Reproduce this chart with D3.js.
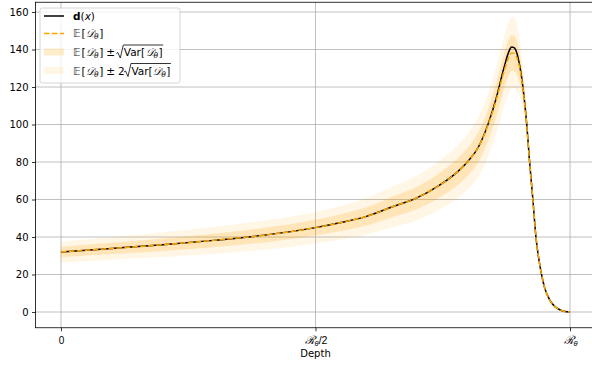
<!DOCTYPE html>
<html>
<head>
  <meta charset="utf-8">
  <style>
    body { margin: 0; padding: 0; background: white; }
    svg { font-family: "DejaVu Sans", sans-serif; }
    .grid line { stroke: #b0b0b0; stroke-width: 0.8; }
    .tick text { font-size: 10px; fill: black; }
    .legend text { font-size: 10.5px; }
  </style>
</head>
<body>
  <div id="chart"></div>
  <script src="https://d3js.org/d3.v7.min.js"></script>
  <script>
    // depth as a fraction of R_theta
    var depth = [0, 0.1, 0.2, 0.3, 0.4, 0.5, 0.55, 0.6, 0.65, 0.7, 0.74, 0.78, 0.8, 0.82, 0.84, 0.855,
      0.87, 0.88, 0.885, 0.89, 0.895, 0.9, 0.905, 0.91, 0.915, 0.92, 0.927, 0.933, 0.94, 0.944,
      0.95, 0.96, 0.97, 0.98, 0.99, 1.0]
    // true dose d(x)
    var dose = [32, 33.9, 35.9, 38.2, 41, 45, 47.7, 51, 56, 61, 67, 75, 80.5, 88, 101, 114,
      130, 139, 141.3, 141, 138.5, 133, 125, 114, 100, 82, 60, 40, 26, 20,
      13, 6.5, 3, 1.2, 0.3, 0]
    // expected value E[D_theta]
    var meanDose = [32, 33.9, 35.9, 38.2, 41, 45, 47.7, 51, 56, 61, 67, 75, 80.5, 88, 100.5, 113,
      128, 136, 138.2, 138, 136, 131.5, 124, 113.5, 99.5, 81.5, 60, 40, 26, 20,
      13, 6.5, 3, 1.2, 0.3, 0]
    // sqrt(Var[D_theta])
    var sdDose = [2.8, 3.0, 3.3, 3.6, 3.9, 4.2, 4.5, 4.9, 5.4, 6.0, 6.5, 7.1, 7.5, 8.0, 8.5, 9.0,
      9.3, 9.5, 9.5, 9.4, 9.0, 8.0, 6.5, 5.0, 3.8, 2.8, 2.0, 1.6, 1.3, 1.1,
      0.9, 0.7, 0.5, 0.3, 0.15, 0.05]
    var yTicks = [0, 20, 40, 60, 80, 100, 120, 140, 160]
    var xTicks = [0, 0.5, 1]

    var width = 592, height = 366

    var svg = d3.select("#chart").append("svg")
      .attr("width", width)
      .attr("height", height)

    var x = d3.scaleLinear().domain([-0.05, 1.05]).range([35.5, 595.5])
    var y = d3.scaleLinear().domain([-8.4, 165.2]).range([327.75, 2.25])

    var pts = depth.map(function(t, i) {
      return { t: t, d: dose[i], m: meanDose[i], s: sdDose[i] }
    })

    svg.append("clipPath").attr("id", "clip")
      .append("rect").attr("x", x(-0.05)).attr("y", y(165.2))
      .attr("width", x(1.05) - x(-0.05)).attr("height", y(-8.4) - y(165.2))

    // grid
    var grid = svg.append("g").attr("class", "grid")
    grid.selectAll(".gy").data(yTicks).enter().append("line")
      .attr("x1", x(-0.05)).attr("x2", x(1.05))
      .attr("y1", function(d) { return y(d) }).attr("y2", function(d) { return y(d) })
    grid.selectAll(".gx").data(xTicks).enter().append("line")
      .attr("y1", y(-8.4)).attr("y2", y(165.2))
      .attr("x1", function(d) { return x(d) }).attr("x2", function(d) { return x(d) })

    var plot = svg.append("g").attr("clip-path", "url(#clip)")

    var band = function(k) {
      return d3.area()
        .curve(d3.curveMonotoneX)
        .x(function(d) { return x(d.t) })
        .y0(function(d) { return y(d.m - k * d.s) })
        .y1(function(d) { return y(d.m + k * d.s) })
    }

    plot.append("path").datum(pts)
      .attr("d", band(2))
      .attr("fill", "orange").attr("fill-opacity", 0.1)
    plot.append("path").datum(pts)
      .attr("d", band(1))
      .attr("fill", "orange").attr("fill-opacity", 0.2)

    plot.append("path").datum(pts)
      .attr("d", d3.line().curve(d3.curveMonotoneX)
        .x(function(d) { return x(d.t) }).y(function(d) { return y(d.d) }))
      .attr("fill", "none").attr("stroke", "black").attr("stroke-width", 1.5)

    plot.append("path").datum(pts)
      .attr("d", d3.line().curve(d3.curveMonotoneX)
        .x(function(d) { return x(d.t) }).y(function(d) { return y(d.m) }))
      .attr("fill", "none").attr("stroke", "orange").attr("stroke-width", 1.5)
      .attr("stroke-dasharray", "5.55,2.4")

    // axes
    var yAxis = svg.append("g")
      .attr("transform", "translate(" + x(-0.05) + ",0)")
      .call(d3.axisLeft(y).tickValues(yTicks).tickSize(3.5).tickPadding(3.5))
    var xAxis = svg.append("g")
      .attr("transform", "translate(0," + y(-8.4) + ")")
      .call(d3.axisBottom(x).tickValues(xTicks).tickSize(3.5).tickPadding(3.5).tickFormat(""))
    ;[yAxis, xAxis].forEach(function(a) {
      a.select(".domain").remove()
      a.selectAll(".tick line").attr("stroke", "black").attr("stroke-width", 0.8)
      a.selectAll(".tick text").attr("font-family", "DejaVu Sans").attr("font-size", 10)
    })

    // x tick labels with script R
    var xLab = xAxis.selectAll(".tick").append("text")
      .attr("y", 16).attr("text-anchor", "middle")
      .attr("font-size", 10).attr("fill", "black")
    xLab.each(function(d) {
      var t = d3.select(this)
      if (d === 0) { t.text("0"); return }
      t.append("tspan").attr("font-size", 11.5).attr("font-style", "italic").text("\u211B")
      t.append("tspan").attr("font-size", 7.5).attr("dy", 2).attr("font-style", "italic").text("\u03B8")
      if (d === 0.5) t.append("tspan").attr("dy", -2).attr("font-size", 10.5).text("/2")
    })

    svg.append("text")
      .attr("x", x(0.5)).attr("y", 357)
      .attr("text-anchor", "middle").attr("font-size", 10)
      .text("Depth")

    // frame
    svg.append("rect")
      .attr("x", x(-0.05)).attr("y", y(165.2))
      .attr("width", x(1.05) - x(-0.05)).attr("height", y(-8.4) - y(165.2))
      .attr("fill", "none").attr("stroke", "black").attr("stroke-width", 0.8)

    // legend
    var legend = svg.append("g").attr("class", "legend")
    legend.append("rect")
      .attr("x", 40).attr("y", 8).attr("width", 140).attr("height", 75)
      .attr("rx", 2.5).attr("fill", "white").attr("fill-opacity", 0.8)
      .attr("stroke", "#cccccc").attr("stroke-width", 0.8)

    var rows = [16, 33.5, 52.5, 71]
    legend.append("line").attr("x1", 44).attr("x2", 64).attr("y1", rows[0]).attr("y2", rows[0])
      .attr("stroke", "black").attr("stroke-width", 1.5)
    legend.append("line").attr("x1", 44).attr("x2", 64).attr("y1", rows[1]).attr("y2", rows[1])
      .attr("stroke", "orange").attr("stroke-width", 1.5).attr("stroke-dasharray", "5.55,2.4")
    legend.append("rect").attr("x", 44).attr("y", rows[2] - 4).attr("width", 20).attr("height", 7)
      .attr("fill", "orange").attr("fill-opacity", 0.2)
    legend.append("rect").attr("x", 44).attr("y", rows[3] - 4).attr("width", 20).attr("height", 7)
      .attr("fill", "orange").attr("fill-opacity", 0.1)

    var l1 = legend.append("text").attr("x", 73).attr("y", rows[0] + 3.5)
    l1.append("tspan").attr("font-weight", "bold").text("d")
    l1.append("tspan").text("(")
    l1.append("tspan").attr("font-style", "italic").text("x")
    l1.append("tspan").text(")")

    function expect(t) {
      t.append("tspan").attr("fill", "#333").text("\uD835\uDD3C")
      t.append("tspan").attr("dx", 0.8).text("[")
      t.append("tspan").attr("dx", 0.5).attr("font-style", "italic").text("\uD835\uDC9F")
      t.append("tspan").attr("font-size", 7.5).attr("dy", 2).attr("font-style", "italic").text("\u03B8")
      t.append("tspan").attr("dy", -2).attr("dx", 0.5).text("]")
    }
    var l2 = legend.append("text").attr("x", 73).attr("y", rows[1] + 3.5)
    expect(l2)

    function sqrtRow(yy, factor) {
      var t = legend.append("text").attr("x", 73).attr("y", yy + 3.5)
      expect(t)
      t.append("tspan").attr("dx", 3).text("\u00B1")
      if (factor) t.append("tspan").attr("dx", 3).text(factor)
      var w = t.node().getComputedTextLength() + 3 + (factor ? 3 : 0)
      var x0 = 73 + w + (factor ? 1 : 3)
      var v = legend.append("text").attr("x", x0 + 7.5).attr("y", yy + 3.5)
      v.append("tspan").text("Var[")
      v.append("tspan").attr("dx", 0.5).attr("font-style", "italic").text("\uD835\uDC9F")
      v.append("tspan").attr("font-size", 7.5).attr("dy", 2).attr("font-style", "italic").text("\u03B8")
      v.append("tspan").attr("dy", -2).attr("dx", 0.5).text("]")
      var vw = v.node().getComputedTextLength() + 1
      legend.append("path")
        .attr("d", "M" + x0 + "," + (yy + 1) + " L" + (x0 + 1.5) + "," + (yy) +
          " L" + (x0 + 4) + "," + (yy + 5.5) + " L" + (x0 + 7) + "," + (yy - 7.5) +
          " L" + (x0 + 7.5 + vw + 0.5) + "," + (yy - 7.5))
        .attr("fill", "none").attr("stroke", "black").attr("stroke-width", 0.8)
    }
    sqrtRow(rows[2], "")
    sqrtRow(rows[3], "2")
  </script>
</body>
</html>
